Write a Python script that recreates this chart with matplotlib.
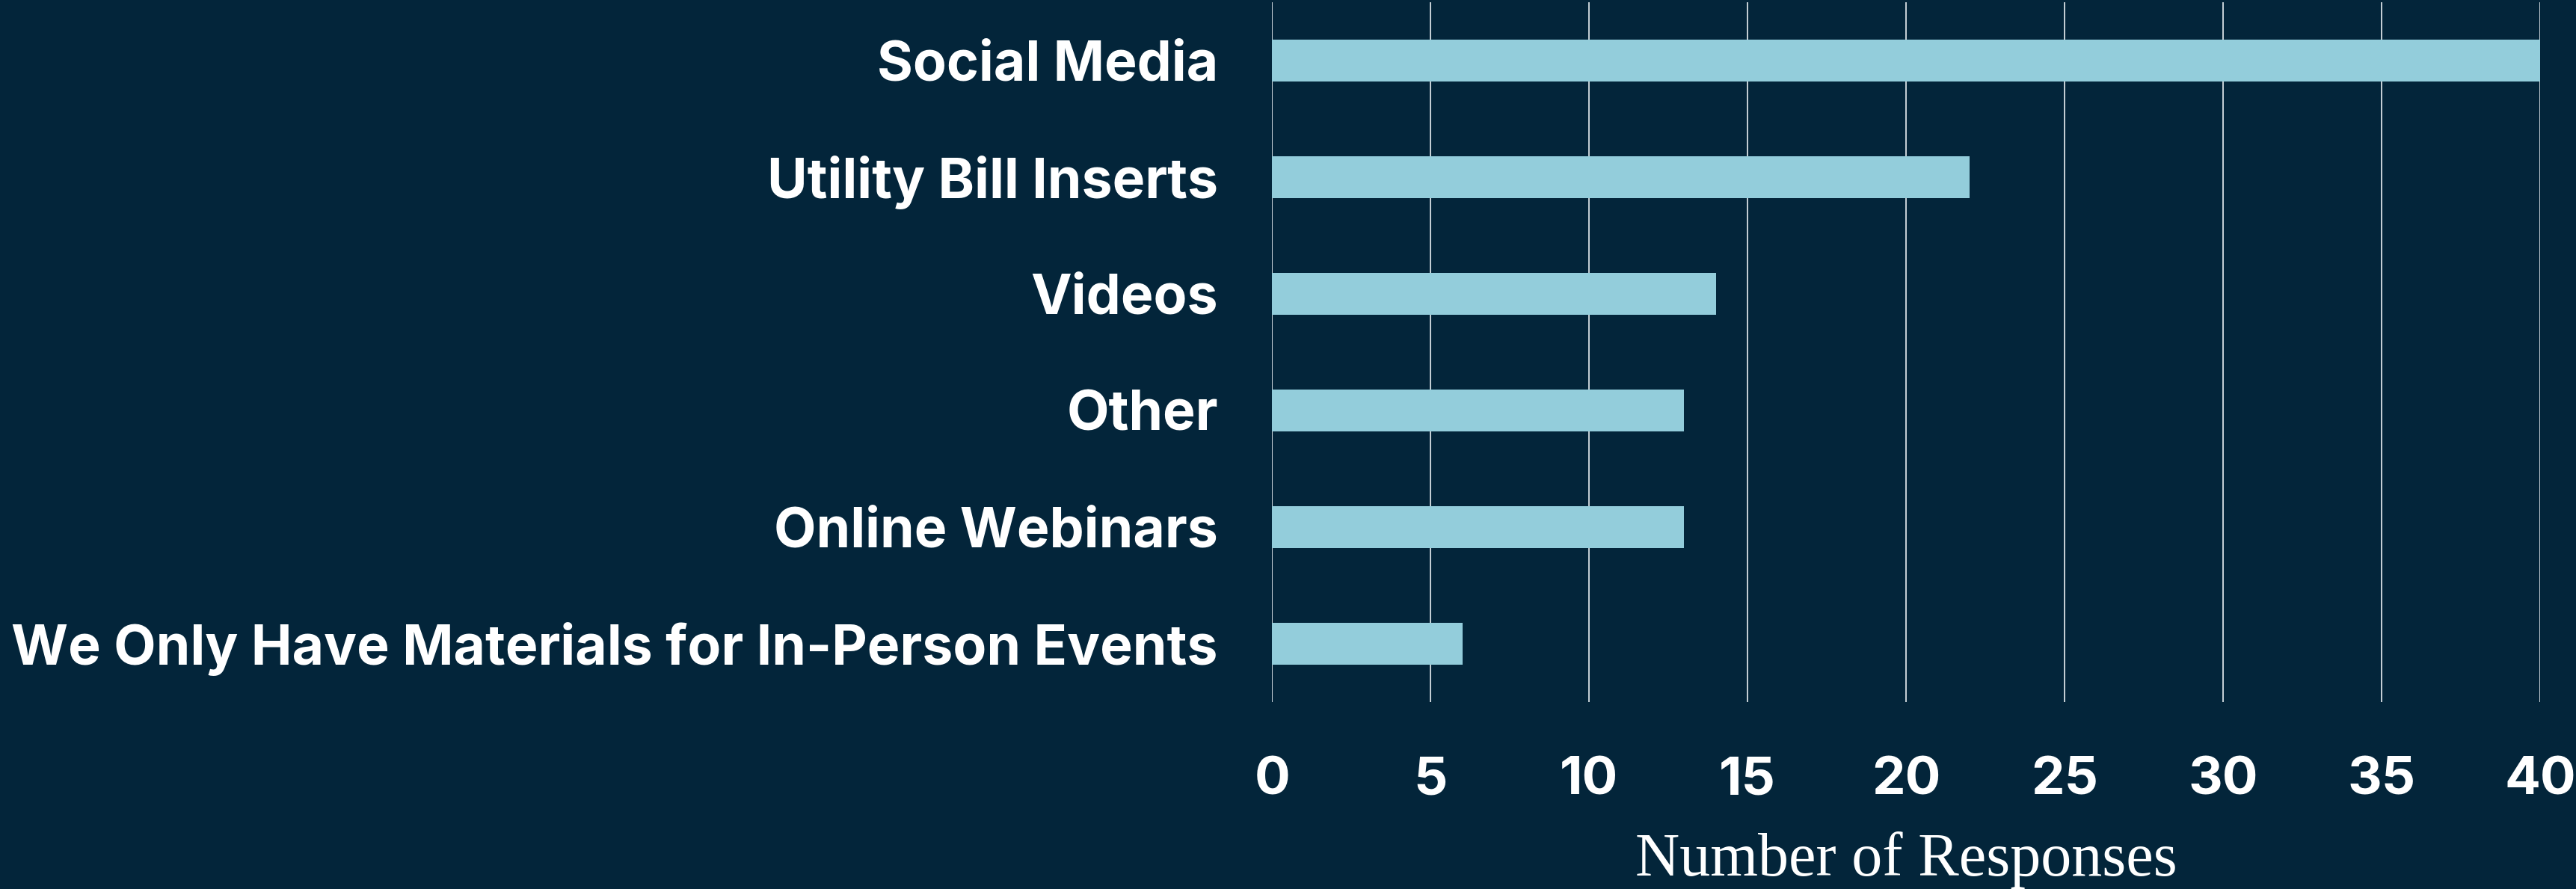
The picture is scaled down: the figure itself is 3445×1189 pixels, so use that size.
import matplotlib
matplotlib.use("Agg")
import matplotlib.pyplot as plt

# data (top to bottom)
categories = ["Social Media", "Utility Bill Inserts", "Videos", "Other",
              "Online Webinars", "We Only Have Materials for In-Person Events"]
responses = [40, 22, 14, 13, 13, 6]
xticks = [0, 5, 10, 15, 20, 25, 30, 35, 40]

bg = "#03253A"
bar_col = "#93CDDB"

fig = plt.figure(figsize=(34.45, 11.89), dpi=100, facecolor=bg)
ax = fig.add_axes([0.4938, 0.2103, 0.4923, 0.7872], facecolor=bg)

ypos = list(range(len(categories)))
ax.barh(ypos, responses, height=0.36, color=bar_col, zorder=3)

ax.set_ylim(len(categories) - 0.5, -0.5)
ax.set_xlim(0, 40)
ax.set_xticks(xticks)
ax.set_yticks(ypos)
ax.set_yticklabels(categories, fontsize=52.8, fontweight="bold", color="white", family="Inter")
ax.set_xticklabels([str(t) for t in xticks], fontsize=51, fontweight="bold", color="white", family="Inter")
ax.tick_params(axis="y", length=0, pad=52)
ax.tick_params(axis="x", length=0, pad=52)

ax.grid(axis="x", color="#C9D2D8", linewidth=1.4, zorder=0)
ax.grid(axis="y", visible=False)
for s in ax.spines.values():
    s.set_visible(False)

ax.set_xlabel("Number of Responses", fontsize=59, color="white",
              family="Liberation Serif", labelpad=26)

fig.savefig("out.png", dpi=100, facecolor=bg)
